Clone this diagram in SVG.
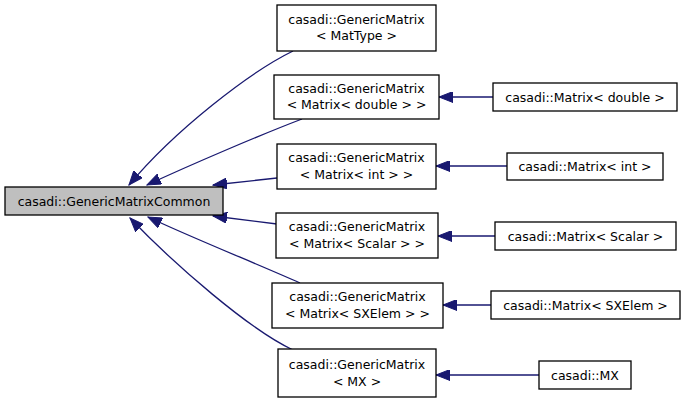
<svg xmlns="http://www.w3.org/2000/svg" width="685" height="403" viewBox="0 0 685 403">
<defs>
<marker id="ah" markerUnits="userSpaceOnUse" markerWidth="15" markerHeight="11" refX="14" refY="5.5" orient="auto">
<path d="M0,0 L14,5.5 L0,11 z" fill="#191970" stroke="#191970" stroke-width="1"/>
</marker>
</defs>
<style>
.n rect{fill:#ffffff;stroke:#000000;stroke-width:1.3}
#root rect{fill:#bfbfbf}
text{font-family:"DejaVu Sans","Liberation Sans",sans-serif;font-size:12.5px;fill:#000000;text-anchor:middle}
#edges path{fill:none;stroke:#191970;stroke-width:1.3;marker-end:url(#ah)}
</style>
<rect width="685" height="403" fill="#ffffff"/>
<g id="edges">
<path d="M293,51 C250,72 175,130 129,185"/>
<path d="M302,119 C260,135 190,165 147,185"/>
<path d="M277,178 L213,185"/>
<path d="M277,224 L213,216"/>
<path d="M300,283 C260,265 190,237 148,217"/>
<path d="M293,350 C250,330 175,265 130,218"/>
<path d="M493,97 L439,97"/>
<path d="M507,166 L436,166"/>
<path d="M495,236 L438,236"/>
<path d="M491,305 L443,305"/>
<path d="M539,375 L436,375"/>
</g>
<g id="root" class="n"><rect x="5" y="187" width="218" height="28"/><text x="114" y="205.5">casadi::GenericMatrixCommon</text></g>
<g id="gm_mattype" class="n"><rect x="277" y="5" width="159" height="46"/><text x="356.5" y="23.5">casadi::GenericMatrix</text><text x="356.5" y="40">&lt; MatType &gt;</text></g>
<g id="gm_double" class="n"><rect x="274" y="75" width="165" height="44"/><text x="356.5" y="92.5">casadi::GenericMatrix</text><text x="356.5" y="109">&lt; Matrix&lt; double &gt; &gt;</text></g>
<g id="gm_int" class="n"><rect x="277" y="144" width="159" height="45"/><text x="356.5" y="162">casadi::GenericMatrix</text><text x="356.5" y="178.5">&lt; Matrix&lt; int &gt; &gt;</text></g>
<g id="gm_scalar" class="n"><rect x="276" y="213" width="162" height="45"/><text x="357" y="231">casadi::GenericMatrix</text><text x="357" y="247.5">&lt; Matrix&lt; Scalar &gt; &gt;</text></g>
<g id="gm_sxelem" class="n"><rect x="272" y="283" width="171" height="45"/><text x="357.5" y="301">casadi::GenericMatrix</text><text x="357.5" y="317.5">&lt; Matrix&lt; SXElem &gt; &gt;</text></g>
<g id="gm_mx" class="n"><rect x="278" y="349" width="158" height="48"/><text x="357" y="369">casadi::GenericMatrix</text><text x="357" y="386">&lt; MX &gt;</text></g>
<g id="m_double" class="n"><rect x="493" y="83" width="184" height="28"/><text x="585" y="101.5">casadi::Matrix&lt; double &gt;</text></g>
<g id="m_int" class="n"><rect x="507" y="153" width="156" height="27"/><text x="585" y="171">casadi::Matrix&lt; int &gt;</text></g>
<g id="m_scalar" class="n"><rect x="495" y="222" width="181" height="28"/><text x="585.5" y="240.5">casadi::Matrix&lt; Scalar &gt;</text></g>
<g id="m_sxelem" class="n"><rect x="491" y="291" width="189" height="28"/><text x="585.5" y="309.5">casadi::Matrix&lt; SXElem &gt;</text></g>
<g id="mx" class="n"><rect x="539" y="361" width="92" height="28"/><text x="585" y="379.5">casadi::MX</text></g>
</svg>
